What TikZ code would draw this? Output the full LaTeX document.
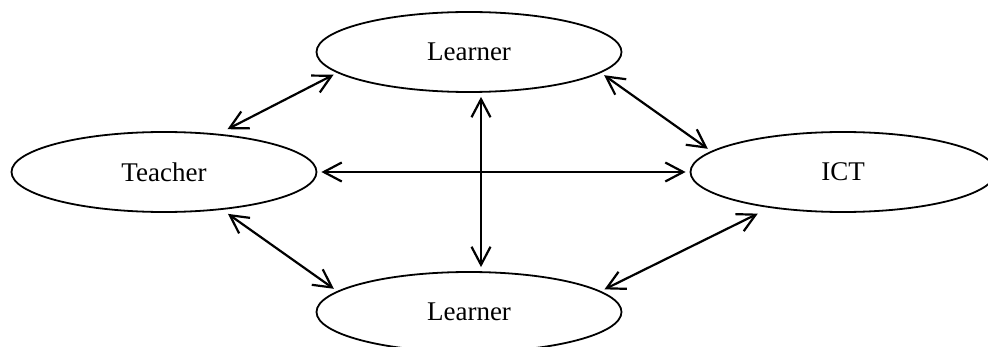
\documentclass[tikz,border=0pt]{standalone}
\usepackage{fontspec}
\setmainfont{Liberation Serif}
\usetikzlibrary{shapes.geometric, arrows.meta}
\begin{document}
\begin{tikzpicture}[
            x = 0.5pt,
            y = -0.5pt,
            block/.style = {
                ellipse,
                draw,
                line width = 0.9pt,
                minimum width = 152.5pt,
                minimum height = 40pt,
                inner sep = 0pt,
                font = \fontsize{13.5}{16}\selectfont},
            arrow/.style = {
                draw,
                line width = 1.1pt,
                {Straight Barb[length=9pt, width=9.5pt]}-{Straight Barb[length=9pt, width=9.5pt]},
                shorten <= 2pt,
                shorten >= 2pt}]
        \useasboundingbox (0,0) rectangle (988,347);
        % Place nodes
        \node [block] (teacher) at (164,172) {Teacher};
        \node [block] (learnertop) at (469,52) {Learner};
        \node [block] (ict) at (843,172) {ICT};
        \node [block] (learnerbot) at (469,312) {Learner};

        % Draw edges
        \path [arrow, shorten <= 5pt] (teacher.35) -- (learnertop.189);
        \path [arrow] (learnertop.351) -- (ict.171);
        \path [arrow, shorten <= 3.5pt] (teacher.327) -- (learnerbot.171);
        \path [arrow, shorten >= 6.5pt] (learnerbot.9) -- (ict.206);
        \path [arrow] (teacher.east) -- (ict.west);
        \path [arrow] ([xshift=6pt]learnertop.south) -- ([xshift=6pt]learnerbot.north);
    \end{tikzpicture}
\end{document}
